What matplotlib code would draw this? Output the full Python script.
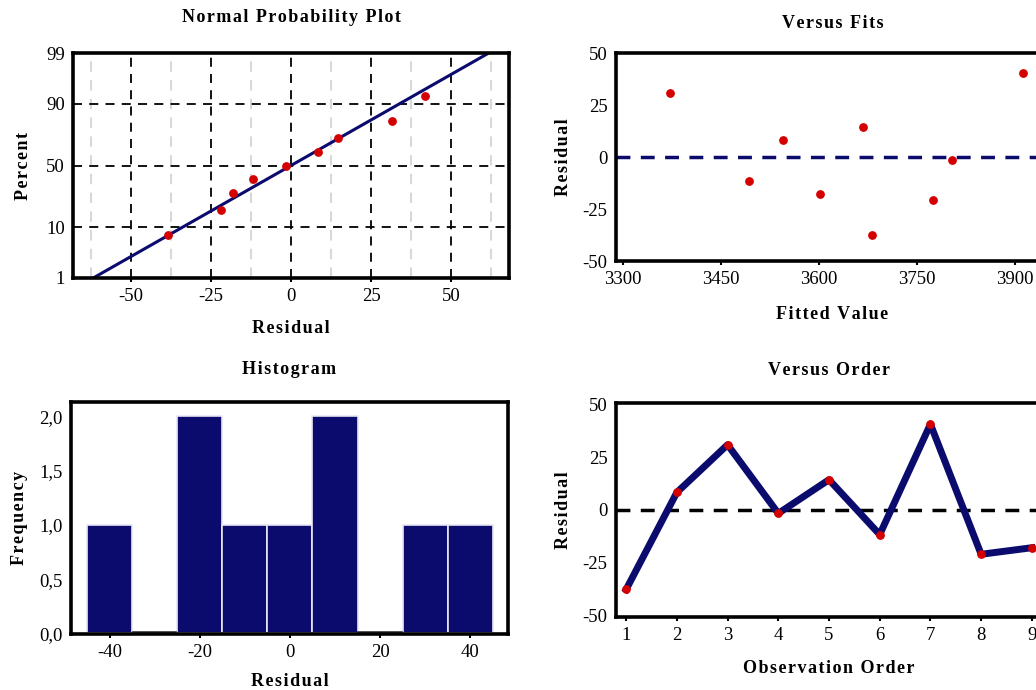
import matplotlib
matplotlib.use('Agg')
import matplotlib.pyplot as plt
from statistics import NormalDist
import numpy as np

# residuals by observation order, and the fitted values for each
order = [1, 2, 3, 4, 5, 6, 7, 8, 9]
residual = [-37.5, 8.3, 30.8, -1.6, 14.3, -11.6, 40.5, -20.9, -17.8]
fitted = [3681, 3546, 3372, 3804, 3668, 3494, 3912, 3775, 3602]

# normal probability plot: sorted residuals vs percent
npp_resid = [-38.5, -21.8, -18.2, -12.0, -1.6, 8.3, 14.7, 31.5, 41.7]
npp_pct = [7.5, 18.1, 28.7, 39.4, 50.0, 60.6, 71.3, 81.9, 92.5]
fit_mu = 0.0
fit_sigma = 26.0

# histogram
hist_centers = [-40, -30, -20, -10, 0, 10, 20, 30, 40]
hist_counts = [1, 0, 2, 1, 1, 2, 0, 1, 1]

NAVY = '#0b0b6e'
RED = '#d40000'
W, H = 1036, 690
SERIF = ['Liberation Serif', 'DejaVu Serif']

plt.rcParams['font.family'] = SERIF
plt.rcParams['font.size'] = 13
plt.rcParams['axes.unicode_minus'] = False

fig = plt.figure(figsize=(W / 100, H / 100), dpi=100)


def box(l, t, r, b):
    return fig.add_axes([l / W, 1 - b / H, (r - l) / W, (b - t) / H])


def style(ax):
    for s in ax.spines.values():
        s.set_linewidth(2.6)
        s.set_color('black')
    ax.tick_params(axis='x', length=3, width=1.5, pad=4, labelsize=13.5)
    ax.tick_params(axis='y', length=0, pad=6, labelsize=13.5)


def spaced(txt):
    # the original labels are letter-spaced
    return '\u200a'.join(txt)


def title(ax, txt, pad):
    ax.set_title(spaced(txt), fontsize=13, fontweight='bold', pad=pad)


def labels(ax, xl, yl, xpad, ypad):
    ax.set_xlabel(spaced(xl), fontsize=13, fontweight='bold', labelpad=xpad)
    ax.set_ylabel(spaced(yl), fontsize=13, fontweight='bold', labelpad=ypad)


z = lambda p: NormalDist().inv_cdf(p / 100.0)

# ---- Normal probability plot
ax = box(73, 53, 509, 278)
style(ax)
ax.set_xlim(-68, 68)
ax.set_ylim(z(1), z(99))
yt = [1, 10, 50, 90, 99]
ax.set_yticks([z(p) for p in yt])
ax.set_yticklabels([str(p) for p in yt])
ax.set_xticks([-50, -25, 0, 25, 50])
for xm in [-62.5, -37.5, -12.5, 12.5, 37.5, 62.5]:
    ax.axvline(xm, color='#d8d8d8', ls=(0, (5, 4)), lw=1.5, zorder=0)
for xm in [-50, -25, 0, 25, 50]:
    ax.axvline(xm, color='black', ls=(0, (5, 4)), lw=1.3, zorder=1)
for p in [10, 50, 90]:
    ax.axhline(z(p), color='black', ls=(0, (5, 4)), lw=1.3, zorder=1)
zz = np.array([z(1), z(99)])
ax.plot(fit_mu + fit_sigma * zz * 1.02, zz, color=NAVY, lw=2.2, zorder=2)
ax.scatter(npp_resid, [z(p) for p in npp_pct], s=28, color=RED, zorder=3)
title(ax, 'Normal Probability Plot', 22)
labels(ax, 'Residual', 'Percent', 11, 10)

# ---- Versus Fits
ax = box(616, 53, 1049, 261)
style(ax)
ax.set_xlim(3290, 3952)
ax.set_ylim(-50, 50)
ax.set_xticks([3300, 3450, 3600, 3750, 3900])
ax.set_yticks([-50, -25, 0, 25, 50])
ax.axhline(0, color=NAVY, ls=(0, (4, 3)), lw=2.5, zorder=1)
ax.scatter(fitted, residual, s=28, color=RED, zorder=3)
title(ax, 'Versus Fits', 18)
labels(ax, 'Fitted Value', 'Residual', 13, 8)

# ---- Histogram
ax = box(71, 402, 508, 634)
style(ax)
ax.bar(hist_centers, hist_counts, width=10, color=NAVY, edgecolor='#e8e8f4',
       linewidth=1.2, zorder=2)
for c, n in zip(hist_centers, hist_counts):
    if n == 0:
        ax.plot([c - 4.8, c + 4.8], [0.012, 0.012], color='#333333', lw=1.2, zorder=2)
ax.set_xlim(-48.6, 48.4)
ax.set_ylim(-0.005, 2.13)
ax.set_xticks([-40, -20, 0, 20, 40])
ax.set_yticks([0, 0.5, 1.0, 1.5, 2.0])
ax.set_yticklabels(['0,0', '0,5', '1,0', '1,5', '2,0'])
title(ax, 'Histogram', 20)
labels(ax, 'Residual', 'Frequency', 9, 8)

# ---- Versus Order
ax = box(616, 403, 1042, 617)
style(ax)
ax.set_xlim(0.8, 9.2)
ax.set_ylim(-50.5, 50.5)
ax.set_xticks(order)
ax.set_yticks([-50, -25, 0, 25, 50])
ax.axhline(0, color='black', ls=(0, (4, 3)), lw=2.5, zorder=1)
ax.plot(order, residual, color=NAVY, lw=5, zorder=2)
ax.scatter(order, residual, s=28, color=RED, zorder=3)
title(ax, 'Versus Order', 20)
labels(ax, 'Observation Order', 'Residual', 12, 8)

fig.savefig('out.png', dpi=100)
